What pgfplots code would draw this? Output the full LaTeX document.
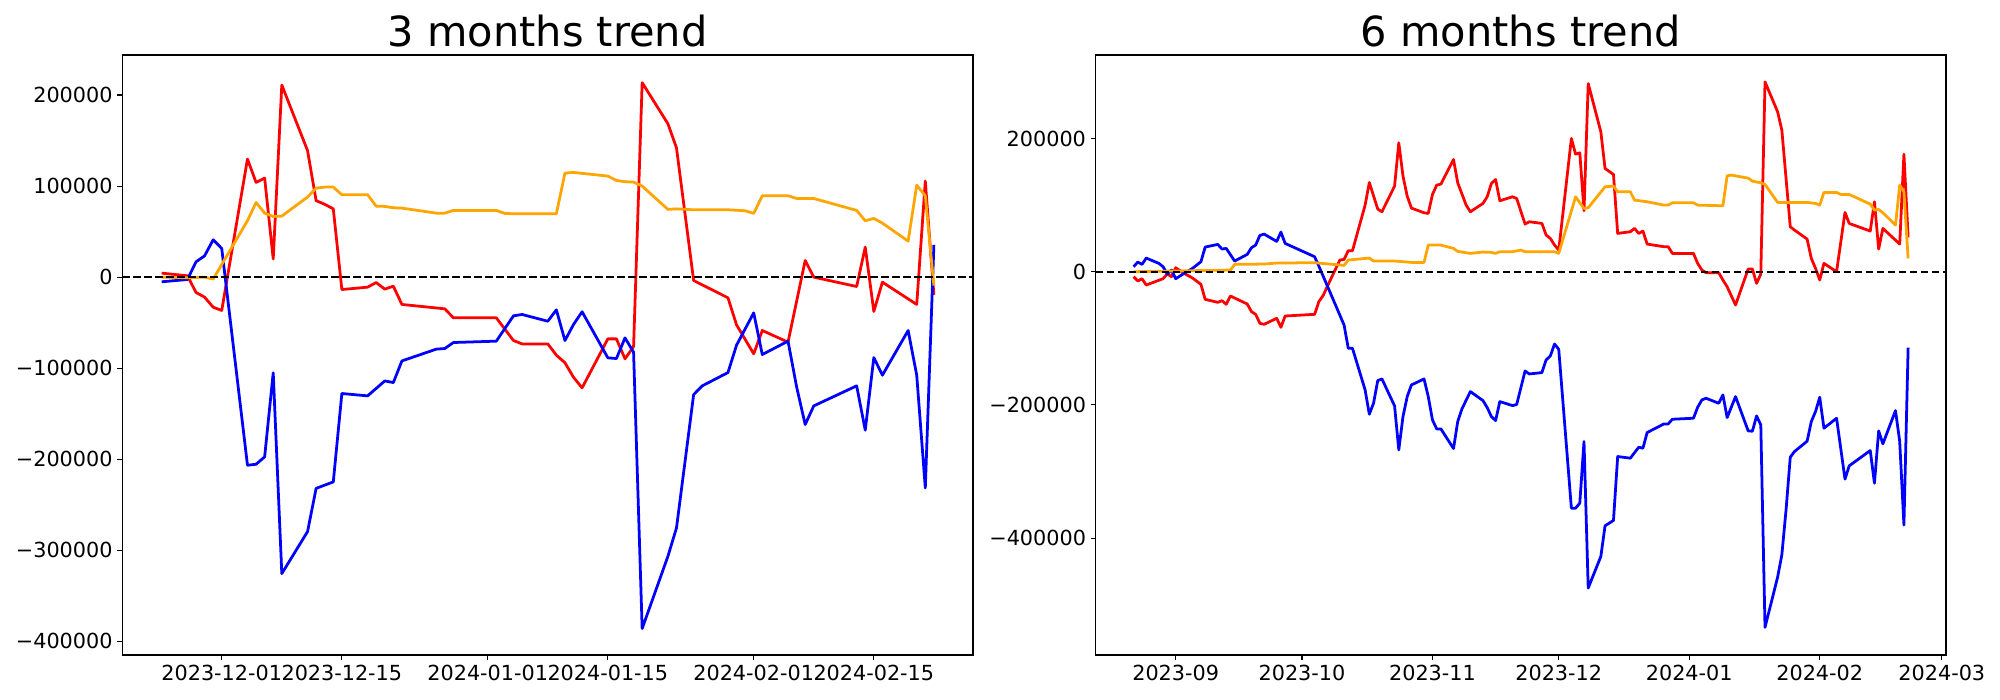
\documentclass[border=0pt]{standalone}
\usepackage{pgfplots}
\pgfplotsset{compat=1.18}
\usepackage{fontspec}
\setmainfont{DejaVu Sans}
\definecolor{mplorange}{RGB}{255,165,0}
\begin{document}
\begin{tikzpicture}
\useasboundingbox (0,0) rectangle (20in,7in);
\pgfplotsset{
  myaxis/.style={
    scale only axis, height=6in,
    axis line style={line width=0.8pt},
    tick align=outside, major tick length=3.5pt,
    every tick/.style={black, line width=0.8pt},
    xtick pos=left, ytick pos=left,
    tick label style={font=\fontsize{15}{18}\selectfont},
    title style={font=\fontsize{30}{36}\selectfont, anchor=base},
    scaled ticks=false,
    every axis plot/.append style={line width=2pt, line join=round},
  },
}
% ---------------- left: 3 months trend (x = days from 2023-12-01, y in thousands)
\begin{axis}[myaxis, at={(1.223in,0.45in)}, anchor=south west, width=8.507in,
  xmin=-11.59, xmax=87.56, ymin=-415, ymax=244,
  xtick={0,14,31,45,62,76},
  xticklabels={2023-12-01,2023-12-15,2024-01-01,2024-01-15,2024-02-01,2024-02-15},
  ytick={-400,-300,-200,-100,0,100,200},
  yticklabels={−400000,−300000,−200000,−100000,0,100000,200000},
  title={3 months trend}]
\addplot[red] coordinates {
(-7,4.4) (-4,1.5) (-3,-16.8) (-2,-22) (-1,-33) (0,-36.6) (3,129.7) (4,104) (5,108.8) (6,20) (7,211)
(10,139) (11,84) (12,80) (13,75) (14,-13.6) (17,-11) (18,-5.9) (19,-13.2) (20,-9.9) (21,-30)
(26,-34.8) (27,-44.7) (32,-44.7) (34,-69.6) (35,-73.3) (38,-73.3) (39,-85.7) (40,-94) (41,-110) (42,-121.6)
(45,-67.8) (46,-67.8) (47,-89.7) (48,-76.2) (49,213.6) (52,168.5) (53,142) (55,-3.7) (59,-22.7) (60,-52.4)
(62,-84.2) (63,-58.6) (66,-71.4) (68,18.3) (69,0) (74,-10.3) (75,33) (76,-37.7) (77,-5.5) (81,-30)
(82,105.5) (83,-19.4)};
\addplot[blue] coordinates {
(-7,-5.1) (-4,-2.6) (-3,16.8) (-2,23.4) (-1,41) (0,31.5) (3,-206.6) (4,-205.5) (5,-197.4) (6,-105)
(7,-325.6) (10,-279.5) (11,-232) (13,-224.9) (14,-127.8) (17,-130.4) (19,-114) (20,-115.8) (21,-92)
(25,-79.1) (26,-78.4) (27,-71.8) (32,-70.3) (34,-42.5) (35,-41) (38,-48.4) (39,-35.9) (40,-69.6) (41,-52)
(42,-38) (45,-88.6) (46,-89.4) (47,-66.7) (48,-82.4) (49,-386) (52,-306.6) (53,-275.5) (55,-129)
(56,-119.4) (59,-104.8) (60,-74.7) (62,-39.2) (63,-85) (66,-70.3) (67,-120.5) (68,-161.9) (69,-141.4)
(74,-119.4) (75,-168.1) (76,-88.3) (77,-107.7) (80,-58.6) (81,-107.7) (82,-231.5) (83,35.5)};
\addplot[mplorange] coordinates {
(-7,0) (-4,-0.7) (-2,0) (-1,-2.2) (3,62) (4,82) (5,70.3) (6,66.7) (7,67) (10,88) (11,97.8) (12,98.9)
(13,98.9) (14,90.5) (17,90.5) (18,78) (19,77.7) (20,76.2) (21,75.8) (25,70.3) (26,70.3) (27,73.3)
(32,73.3) (33,70) (34,69.6) (39,69.6) (40,114.3) (41,115) (45,111) (46,106.2) (47,104.8) (48,104.4)
(49,100) (52,74.4) (53,75) (55,74) (59,74) (61,72.9) (62,70) (63,89.4) (66,89.4) (67,86.4) (69,86.4)
(74,73.3) (75,61.9) (76,64.5) (77,59.3) (80,39.6) (81,101) (82,89.4) (83,-9.2)};
\addplot[black, line width=1.5pt, dash pattern=on 5.55pt off 2.4pt] coordinates {(-11.59,0) (87.56,0)};
\end{axis}
% ---------------- right: 6 months trend
\begin{axis}[myaxis, at={(10.957in,0.45in)}, anchor=south west, width=8.503in,
  xmin=-110.0, xmax=92.0, ymin=-575.5, ymax=325.4,
  xtick={-91,-61,-30,0,31,62,91},
  xticklabels={2023-09,2023-10,2023-11,2023-12,2024-01,2024-02,2024-03},
  ytick={-400,-200,0,200},
  yticklabels={−400000,−200000,0,200000},
  title={6 months trend}]
\addplot[red] coordinates {
(-101,-7.5) (-100,-14) (-99,-10.5) (-98,-20) (-94,-10.5) (-93,-3.5) (-92,-7.5) (-91,6) (-89,-2.5)
(-87,-9.5) (-85,-19) (-84,-41.5) (-81,-46) (-80,-43.5) (-79,-49) (-78,-36.5) (-74,-48.5) (-73,-60)
(-72,-64) (-71,-77.5) (-70,-79) (-67,-70) (-66,-83.5) (-65,-66.5) (-58,-64) (-57,-45) (-56,-36)
(-54,-9) (-52,17.5) (-51,18.5) (-50,31.5) (-49,31.5) (-46,100) (-45,134) (-43,94) (-42,90) (-39,128.5)
(-38,193.5) (-37,143.5) (-36,113.5) (-35,95.5) (-32,88.5) (-31,87.5) (-30,116) (-29,130) (-28,131.5)
(-25,168.5) (-24,133.5) (-22,100) (-21,90) (-18,102.5) (-17,112.5) (-16,132.5) (-15,138.5) (-14,106.5)
(-11,112.5) (-10,110) (-8,71.5) (-7,75) (-4,72.5) (-3,55) (-2,50) (-1,40) (0,32.5) (3,200) (4,176.5)
(5,178.5) (6,91.5) (7,282.5) (10,210) (11,155) (13,146) (14,57.5) (17,60) (18,65) (19,57.5) (20,61)
(21,41.5) (25,37.5) (26,37.5) (27,27.5) (32,27.5) (33,12.5) (34,2.5) (35,-1.5) (38,-1.5) (39,-12.5)
(40,-22.5) (42,-50) (45,4) (46,4) (47,-17.5) (48,-3.5) (49,285) (52,240) (53,212.5) (55,67.5) (56,62.5)
(59,49) (60,20) (61,5) (62,-12.5) (63,12.5) (66,0) (68,89) (69,72.5) (74,61) (75,105) (76,34) (77,65)
(81,41.5) (82,176.5) (83,51.5)};
\addplot[blue] coordinates {
(-101,7.5) (-100,14.5) (-99,11) (-98,20.5) (-95,12.5) (-94,7.5) (-93,-3.5) (-92,2.5) (-91,-10.5)
(-89,-2.5) (-87,5) (-85,15) (-84,37) (-81,41) (-80,34) (-79,35) (-77,16) (-74,26) (-73,36) (-72,40)
(-71,54.5) (-70,56.5) (-67,45.5) (-66,59.5) (-65,42.5) (-58,22.5) (-57,8.5) (-51,-80) (-50,-115)
(-49,-115) (-46,-177.5) (-45,-214) (-44,-197.5) (-43,-163.5) (-42,-161) (-39,-201.5) (-38,-267.5)
(-37,-217.5) (-36,-187.5) (-35,-170) (-32,-161) (-31,-187.5) (-30,-222.5) (-29,-236) (-28,-236)
(-25,-265.5) (-24,-225) (-23,-206) (-21,-180) (-18,-193.5) (-17,-204) (-16,-217.5) (-15,-223.5)
(-14,-195) (-11,-201) (-10,-199.5) (-8,-149) (-7,-153.5) (-4,-151.5) (-3,-132.5) (-2,-126.5)
(-1,-108.5) (0,-116.5) (3,-355) (4,-355) (5,-347.5) (6,-255) (7,-475) (10,-427.5) (11,-381.5)
(13,-373.5) (14,-277.5) (17,-280) (19,-263.5) (20,-265) (21,-241.5) (25,-228.5) (26,-228.5)
(27,-221.5) (32,-220) (33,-203.5) (34,-192.5) (35,-190) (38,-197.5) (39,-185) (40,-219) (42,-187.5)
(45,-239) (46,-239.5) (47,-216.5) (48,-230) (49,-534) (52,-458.5) (53,-425) (54,-357.5) (55,-278.5)
(56,-270) (59,-254.5) (60,-225) (61,-210) (62,-188.5) (63,-235) (66,-220) (68,-311.5) (69,-291.5)
(74,-268.5) (75,-317.5) (76,-239) (77,-258.5) (80,-208.5) (81,-255) (82,-380.5) (83,-114)};
\addplot[mplorange] coordinates {
(-101,0) (-78,2.5) (-77,11) (-70,11.5) (-67,13) (-58,13.5) (-51,9.5) (-50,17.5) (-45,20.5) (-44,16)
(-39,16) (-35,14) (-32,14) (-31,40) (-28,40) (-25,35) (-24,30.5) (-21,27.5) (-18,29.5) (-16,29)
(-15,27.5) (-14,30) (-11,30) (-9,32.5) (-8,30) (-1,30) (0,27.5) (4,112.5) (6,95) (7,96) (11,127.5)
(13,128.5) (14,120) (17,120) (18,107.5) (21,105) (25,100) (26,100) (27,103.5) (32,103.5) (33,100)
(39,99) (40,144) (41,145) (45,140.5) (46,136) (48,133.5) (49,131) (52,104) (55,104) (59,104)
(61,102.5) (62,100) (63,119) (66,119) (67,116) (69,116) (74,101.5) (75,92.5) (76,93.5) (77,88.5)
(80,70) (81,130) (82,120) (83,20)};
\addplot[black, line width=1.5pt, dash pattern=on 5.55pt off 2.4pt] coordinates {(-110,0) (92,0)};
\end{axis}
\end{tikzpicture}
\end{document}
